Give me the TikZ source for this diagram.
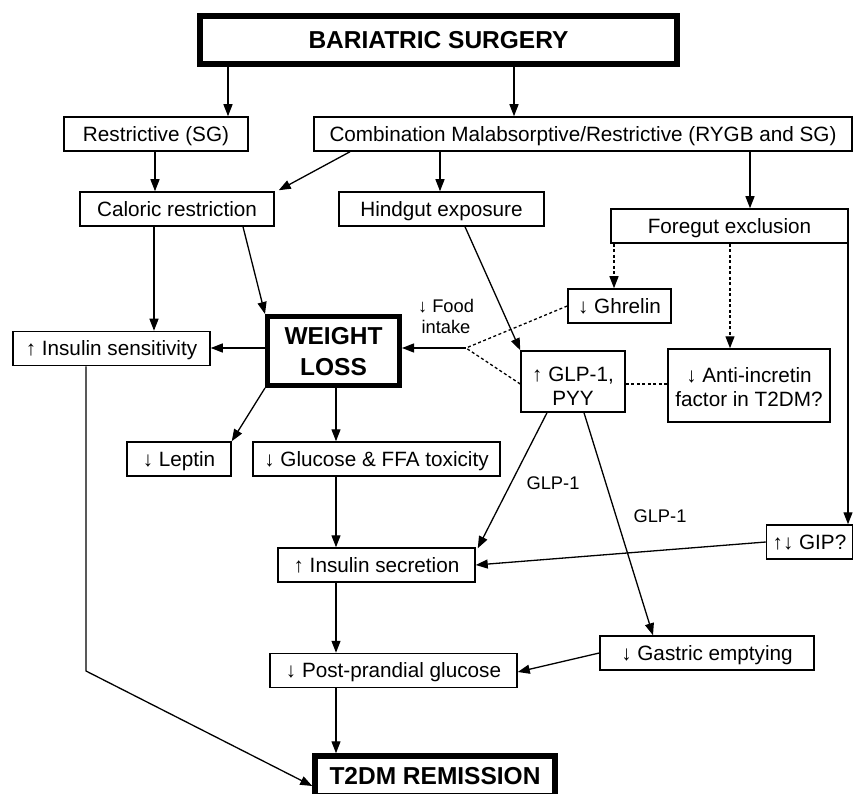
\documentclass[tikz,border=0pt]{standalone}
\usepackage{fontspec}
\setmainfont{Liberation Sans}
\usetikzlibrary{arrows.meta}
\tikzset{
  box/.style={draw, line width=1.5pt, inner sep=0pt, minimum height=34pt, align=center,
    font=\fontsize{20.7}{23.5}\selectfont, text height=14.8pt, text depth=0pt},
  bigbox/.style={draw, line width=5.5pt, inner sep=0pt, align=center,
    font=\fontsize{24.5}{31}\selectfont\bfseries, text height=17.5pt, text depth=0pt},
  lbl/.style={inner sep=0pt, align=center, font=\fontsize{18.3}{21}\selectfont,
    text height=13.1pt, text depth=0pt},
  arr/.style={line width=1.3pt, -{Triangle[length=12pt,width=9pt]}},
  dotarr/.style={line width=1.3pt, dash pattern=on 3pt off 2.5pt, -{Triangle[length=12pt,width=9pt]}},
  dotline/.style={line width=1.3pt, dash pattern=on 3pt off 2.5pt},
}
\begin{document}
\begin{tikzpicture}[x=1pt,y=-1pt]
\useasboundingbox[fill=white] (0,0) rectangle (854,794);

% nodes
\node[bigbox, line width=6pt, minimum width=477pt, minimum height=48pt] (bs) at (438.5,40) {BARIATRIC SURGERY};
\node[box, minimum width=184pt] (restr) at (156,134) {Restrictive (SG)};
\node[box, minimum width=538pt] (comb) at (583,134) {Combination Malabsorptive/Restrictive (RYGB and SG)};
\node[box, minimum width=194pt] (calor) at (177,209) {Caloric restriction};
\node[box, minimum width=205pt] (hind) at (441.5,209) {Hindgut exposure};
\node[box, minimum width=237pt] (fore) at (729.5,226) {Foregut exclusion};
\node[box, minimum width=103pt] (ghr) at (619.5,306) {↓ Ghrelin};
\node[box, minimum width=104pt, minimum height=61pt, text height=47.8pt] (glp) at (573,381.5) {↑ GLP-1,\\PYY};
\node[box, minimum width=162pt, minimum height=73pt, text height=41.8pt] (anti) at (749,385.5) {↓ Anti-incretin\\factor in T2DM?};
\node[bigbox, line width=5pt, minimum width=132pt, minimum height=69pt, text height=49.5pt] (wl) at (333.5,351) {WEIGHT\\LOSS};
\node[box, minimum width=197pt] (isens) at (111.5,348.5) {↑ Insulin sensitivity};
\node[box, minimum width=104pt] (lep) at (179,459) {↓ Leptin};
\node[box, minimum width=247pt] (gluc) at (376.5,459) {↓ Glucose \& FFA toxicity};
\node[box, minimum width=86pt] (gip) at (809.5,542) {↑↓ GIP?};
\node[box, minimum width=197pt] (insec) at (376.5,565) {↑ Insulin secretion};
\node[box, minimum width=214pt] (gast) at (707,653) {↓ Gastric emptying};
\node[box, minimum width=247pt] (pp) at (393.5,670.5) {↓ Post-prandial glucose};
\node[bigbox, line width=5.5pt, minimum width=240pt, minimum height=40pt] (t2dm) at (435,776) {T2DM REMISSION};

% labels
\node[lbl, text height=34.1pt] (food) at (446,316.5) {↓ Food\\intake};
\node[lbl] (g1) at (553,483) {GLP-1};
\node[lbl] (g2) at (660,516) {GLP-1};

\coordinate (fi) at (466,348);
\coordinate (bend) at (86,671);

% connectors
\draw[arr] (bs.south -| 228,0) -- (restr.north -| 228,0);
\draw[arr] (bs.south -| 514,0) -- (comb.north -| 514,0);
\draw[arr] (restr.south -| 155,0) -- (calor.north -| 155,0);
\draw[arr] (comb.south -| 350,0) -- ([shift={(4,-1)}]calor.north east);
\draw[arr] (comb.south -| 440,0) -- (hind.north -| 440,0);
\draw[arr] (comb.south -| 750,0) -- (fore.north -| 750,0);
\draw[arr] (calor.south -| 154,0) -- (isens.north -| 154,0);
\draw[arr] (calor.south -| 243,0) -- (wl.north west);
\draw[arr] (wl.west |- 0,348) -- (isens.east |- 0,348);
\draw[arr] (fi) -- (wl.east |- fi);
\draw[dotline] (ghr.west) -- (fi);
\draw[dotline] (glp.west |- 0,384) -- (fi);
\draw[dotarr] (fore.south -| 614,0) -- (ghr.north -| 614,0);
\draw[dotarr] (fore.south -| 730,0) -- (anti.north -| 730,0);
\draw[dotline] (glp.east |- 0,384) -- (anti.west |- 0,384);
\draw[arr] (hind.south -| 465,0) -- (glp.north west);
\draw[arr] (fore.south -| 848,0) -- (gip.north -| 848,0);
\draw[arr] (wl.south west) -- (lep.north east);
\draw[arr] (wl.south -| 336,0) -- (gluc.north -| 336,0);
\draw[arr] (gluc.south -| 336,0) -- (insec.north -| 336,0);
\draw[arr] (glp.south -| 547,0) -- ([shift={(2,1)}]insec.north east);
\draw[arr] (glp.south -| 584,0) -- (gast.north -| 653,0);
\draw[arr] (gip.west) -- (insec.east);
\draw[arr] (insec.south -| 336,0) -- (pp.north -| 336,0);
\draw[arr] (gast.west) -- ([yshift=-1.5pt]pp.east);
\draw[arr] (pp.south -| 336,0) -- (t2dm.north -| 336,0);
\draw[arr] (isens.south -| 86,0) -- (bend) -- (t2dm.west |- 0,786);
\end{tikzpicture}
\end{document}
